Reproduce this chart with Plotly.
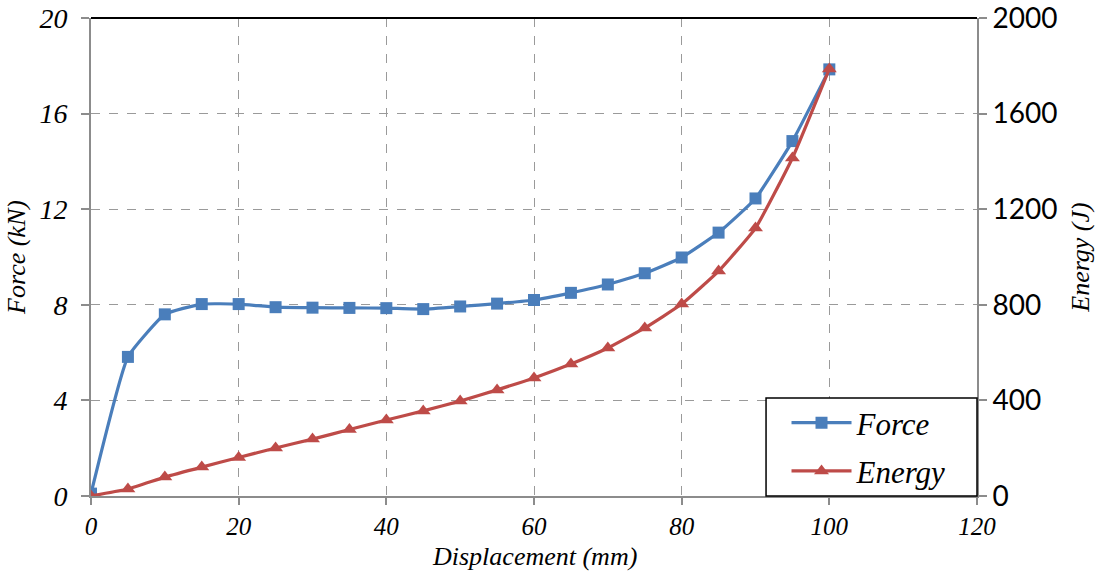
import plotly.graph_objects as go

displacement = [0, 5, 10, 15, 20, 25, 30, 35, 40, 45, 50, 55, 60, 65, 70, 75, 80, 85, 90, 95, 100]
force_kn = [0.1, 5.82, 7.6, 8.03, 8.03, 7.9, 7.88, 7.87, 7.86, 7.82, 7.93, 8.05, 8.2, 8.5, 8.85, 9.32, 9.98, 11.02, 12.45, 14.85, 17.85]
energy_j = [0, 29, 79, 121, 161, 201, 238, 278, 318, 356, 397, 444, 494, 552, 619, 703, 803, 941, 1121, 1414, 1787]

x_ticks = [0, 20, 40, 60, 80, 100, 120]
force_ticks = [0, 4, 8, 12, 16, 20]
energy_ticks = [0, 400, 800, 1200, 1600, 2000]

BLUE = "#4A7EBB"
RED = "#BE4B48"
SERIF = "Liberation Serif"
GRID = "#9a9a9a"
AXIS = "#8c8c8c"

fig = go.Figure()
fig.add_trace(go.Scatter(
    x=displacement, y=force_kn, name="Force", mode="lines+markers",
    line=dict(color=BLUE, width=3.2, shape="spline", smoothing=0.4),
    marker=dict(symbol="square", size=12, color=BLUE),
    yaxis="y", legendgroup="force",
))
fig.add_trace(go.Scatter(
    x=displacement, y=energy_j, name="Energy", mode="lines+markers",
    line=dict(color=RED, width=3.2, shape="spline", smoothing=0.4),
    marker=dict(symbol="triangle-up", size=13, color=RED),
    yaxis="y2", legendgroup="energy",
))

y_tick_font = dict(family=SERIF, size=28, color="black", style="italic")
x_tick_font = dict(family=SERIF, size=25, color="black", style="italic")
title_font = dict(family=SERIF, size=26, color="black", style="italic")

fig.update_layout(
    width=1097, height=578,
    margin=dict(l=91, r=120, t=18, b=82),
    plot_bgcolor="white", paper_bgcolor="white",
    showlegend=True,
    legend=dict(
        x=0.785, y=0.1025, xanchor="left", yanchor="middle",
        borderwidth=0, bgcolor="rgba(0,0,0,0)",
        font=dict(family=SERIF, size=31, color="black", style="italic"),
        itemwidth=60, tracegroupgap=5,
    ),
    xaxis=dict(
        range=[0, 120], tickvals=x_ticks, ticktext=[str(v) for v in x_ticks],
        showline=True, linecolor=AXIS, linewidth=2,
        ticks="outside", ticklen=7, tickcolor=AXIS, tickwidth=2,
        showgrid=True, gridcolor=GRID, griddash="dash", gridwidth=1,
        zeroline=False, tickfont=x_tick_font, automargin=False,
        ticklabeloverflow="allow",
    ),
    yaxis=dict(
        range=[0, 20], tickvals=force_ticks,
        showline=True, linecolor=AXIS, linewidth=2,
        ticks="outside", ticklen=8, tickcolor=AXIS, tickwidth=2,
        showgrid=True, gridcolor=GRID, griddash="dash", gridwidth=1,
        zeroline=False, tickfont=y_tick_font, automargin=False,
        ticklabelstandoff=8, ticklabeloverflow="allow",
        title=dict(text="Force (kN)", font=title_font, standoff=6),
    ),
    yaxis2=dict(
        range=[0, 2000], tickvals=energy_ticks, overlaying="y", side="right",
        showline=True, linecolor=AXIS, linewidth=2,
        ticks="outside", ticklen=8, tickcolor=AXIS, tickwidth=2,
        showgrid=False, zeroline=False, automargin=False,
        ticklabeloverflow="allow",
        tickfont=dict(family="Lato", size=28, color="black"),
        title=dict(text="Energy (J)", font=title_font, standoff=14),
    ),
    annotations=[
        dict(text="Displacement (mm)", xref="paper", yref="paper", x=0.5, y=-0.127,
             xanchor="center", yanchor="middle", showarrow=False, font=title_font),
    ],
    shapes=[
        dict(type="line", xref="paper", yref="paper", x0=0, x1=1, y0=1, y1=1,
             line=dict(color="black", width=2)),
        # legend frame
        dict(type="rect", xref="paper", yref="paper", x0=0.7619, x1=1.0, y0=0.0, y1=0.205,
             fillcolor="white", line=dict(color="black", width=1.5), layer="above"),
    ],
)

fig.write_html("out.html")
